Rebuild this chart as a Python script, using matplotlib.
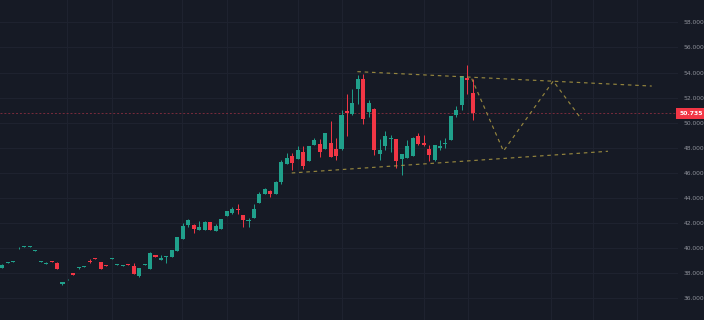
import numpy as np
import matplotlib
matplotlib.use("Agg")
import matplotlib.pyplot as plt
import matplotlib.transforms as mtransforms

# candle data (open, high, low, close)
opens = [38.42, 38.82, 38.90, 39.97, 40.10, 40.10, 39.78, 38.90, 38.72, 38.95,
         38.85, 37.12, 37.50, 38.00, 38.38, 38.53, 38.96, 39.17, 38.88, 38.63,
         39.12, 38.67, 38.59, 38.71, 38.58, 37.74, 38.67, 38.37, 39.46, 39.06,
         39.31, 39.30, 39.78, 40.74, 41.84, 41.88, 41.45, 41.43, 42.06, 41.40,
         41.53, 42.57, 42.78, 43.07, 42.62, 42.20, 42.41, 43.60, 44.35, 44.56,
         44.30, 45.28, 46.74, 47.32, 47.14, 47.64, 46.95, 48.25, 48.33, 47.90,
         48.38, 47.94, 47.88, 50.91, 50.67, 52.72, 53.51, 50.86, 51.12, 47.54,
         48.12, 48.71, 48.67, 47.08, 47.19, 47.35, 48.97, 48.41, 47.91, 47.00,
         47.96, 48.34, 48.65, 50.59, 51.39, 53.54, 52.40]
highs = [38.72, 38.90, 39.00, 40.05, 40.17, 40.17, 39.86, 38.97, 38.86, 38.97,
         38.87, 37.33, 37.57, 38.02, 38.50, 38.60, 39.10, 39.19, 38.90, 38.65,
         39.24, 38.73, 38.65, 38.73, 38.78, 38.42, 38.73, 39.67, 39.48, 39.46,
         39.40, 39.86, 40.87, 42.03, 42.35, 41.90, 42.14, 42.14, 42.08, 41.95,
         42.32, 42.99, 43.25, 43.55, 42.64, 42.42, 43.50, 44.45, 44.77, 44.65,
         45.33, 47.05, 47.55, 47.55, 48.12, 48.12, 48.14, 48.80, 48.70, 49.17,
         50.11, 48.81, 51.00, 52.32, 52.72, 53.78, 53.86, 51.84, 51.14, 48.73,
         49.35, 49.00, 48.69, 47.50, 48.60, 48.83, 49.18, 49.00, 48.20, 48.22,
         48.60, 48.81, 50.53, 51.30, 53.72, 54.57, 53.51]
lows = [38.40, 38.80, 38.88, 39.95, 40.08, 40.08, 39.76, 38.88, 38.70, 38.89,
        38.30, 37.10, 37.48, 37.85, 38.36, 38.51, 38.85, 39.11, 38.32, 38.57,
        39.10, 38.65, 38.57, 38.65, 37.90, 37.72, 38.65, 38.35, 39.28, 39.04,
        38.82, 39.28, 39.76, 40.72, 41.70, 41.21, 41.43, 41.41, 41.43, 41.38,
        41.51, 42.55, 42.76, 42.76, 41.69, 41.72, 42.39, 43.58, 44.33, 44.10,
        44.28, 45.15, 46.72, 46.21, 47.12, 46.34, 46.93, 48.23, 47.27, 47.88,
        47.25, 47.00, 47.86, 48.92, 50.65, 51.52, 49.93, 50.45, 47.40, 47.06,
        47.80, 47.70, 46.42, 45.81, 47.17, 47.33, 48.20, 48.18, 46.95, 46.98,
        47.80, 47.98, 48.63, 50.45, 50.99, 52.32, 50.19]
closes = [38.69, 38.87, 38.98, 40.02, 40.15, 40.15, 39.83, 38.95, 38.84, 38.91,
          38.32, 37.31, 37.55, 37.87, 38.48, 38.58, 38.88, 39.13, 38.34, 38.59,
          39.22, 38.71, 38.63, 38.67, 37.92, 38.40, 38.71, 39.65, 39.30, 39.25,
          39.35, 39.84, 40.85, 41.74, 42.22, 41.53, 41.67, 42.06, 41.45, 41.74,
          42.30, 42.97, 43.12, 43.03, 42.25, 42.24, 43.08, 44.35, 44.75, 44.35,
          45.31, 46.87, 47.22, 46.79, 47.86, 46.53, 48.12, 48.65, 47.67, 49.15,
          47.27, 47.35, 50.59, 50.77, 51.57, 53.51, 50.27, 51.57, 47.86, 47.86,
          48.92, 48.75, 46.92, 47.48, 48.12, 48.81, 48.30, 48.20, 47.46, 48.20,
          48.12, 48.38, 50.51, 50.99, 53.70, 53.38, 50.735]

last_price = 50.735

# drawn pattern lines (bar index, price)
upper_x = [64.9, 118.7]
upper_y = [54.07, 52.92]
lower_x = [52.9, 110.7]
lower_y = [45.99, 47.72]
proj_x = [85.8, 91.6, 100.7, 105.9]
proj_y = [53.51, 47.74, 53.32, 50.25]

price_ticks = np.arange(36, 59, 2)
time_grid = [11.9, 20, 32.9, 41, 54, 62.1, 77, 85.1, 100.2, 108, 116]

bg = '#161a25'
up_col = '#20a08b'
down_col = '#f23645'
grid_col = '#1f2330'

fig = plt.figure(figsize=(7.04, 3.2), dpi=100, facecolor=bg)
ax = fig.add_axes([0, 0, 678 / 704, 1])
ax.set_facecolor(bg)

o = np.array(opens)
h = np.array(highs)
l = np.array(lows)
c = np.array(closes)
idx = np.arange(len(o))
cols = np.where(c >= o, up_col, down_col)

# wicks then bodies
ax.vlines(idx, l, h, colors=cols, linewidth=0.7, zorder=3)
body = np.maximum(np.abs(c - o), 0.05)
ax.bar(idx, body, bottom=np.minimum(o, c), width=0.74, color=cols,
       linewidth=0, zorder=4)

# pattern drawing
dash = dict(color='#b4a044', linewidth=0.85, linestyle=(0, (3, 3.2)), alpha=0.8, zorder=5)
ax.plot(upper_x, upper_y, **dash)
ax.plot(lower_x, lower_y, **dash)
ax.plot(proj_x, proj_y, **dash)

# last price line + label
ax.axhline(last_price, color='#7a2b3c', linewidth=0.7, linestyle=(0, (2, 2)), zorder=2)
trans = mtransforms.blended_transform_factory(ax.transAxes, ax.transData)
ax.text(1.002, last_price, f'{last_price:.3f}', transform=trans, ha='left', va='center',
        fontsize=4.4, color='white', fontweight='bold', clip_on=False,
        bbox=dict(boxstyle='square,pad=0.5', fc=down_col, ec='none'))

ax.set_xlim(-0.42, 123.5)
ax.set_ylim(34.27, 59.78)

ax.set_yticks(price_ticks)
ax.set_yticklabels([f'{v:.3f}' for v in price_ticks])
ax.yaxis.tick_right()
ax.tick_params(axis='y', length=0, pad=4, labelsize=4.3, labelcolor='#8f929b')
ax.set_xticks(time_grid)
ax.tick_params(axis='x', length=0, labelbottom=False)
ax.grid(True, color=grid_col, linewidth=0.7)
ax.set_axisbelow(True)
for s in ax.spines.values():
    s.set_visible(False)

plt.savefig('out.png', dpi=100, facecolor=bg)
